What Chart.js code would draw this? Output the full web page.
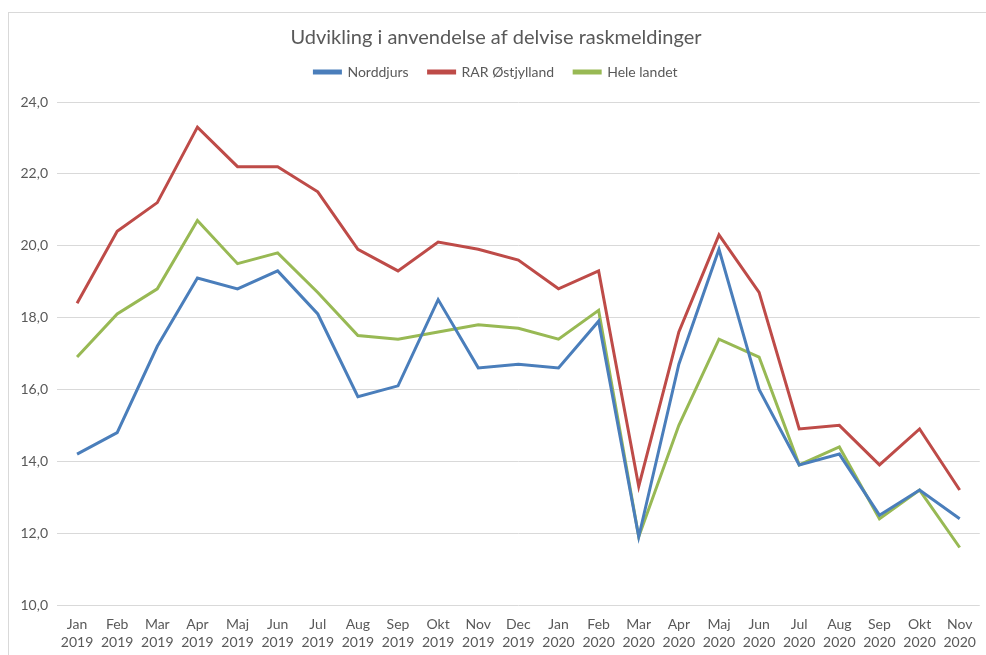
<!DOCTYPE html>
<html>
<head>
<meta charset="utf-8">
<script src="https://cdn.jsdelivr.net/npm/chart.js@4/dist/chart.umd.min.js"></script>
<style>
  html, body { margin: 0; padding: 0; background: #fff; }
  #frame {
    position: absolute; left: 8px; top: 12px;
    width: 978px; height: 643px;
    border-top: 1px solid #d9d9d9; border-left: 1px solid #d9d9d9;
  }
</style>
</head>
<body>
<div id="frame"><canvas id="myChart" width="977" height="642"></canvas></div>
<script>
const months = ['Jan', 'Feb', 'Mar', 'Apr', 'Maj', 'Jun', 'Jul', 'Aug', 'Sep', 'Okt', 'Nov', 'Dec',
  'Jan', 'Feb', 'Mar', 'Apr', 'Maj', 'Jun', 'Jul', 'Aug', 'Sep', 'Okt', 'Nov'];
const years = ['2019', '2019', '2019', '2019', '2019', '2019', '2019', '2019', '2019', '2019', '2019', '2019',
  '2020', '2020', '2020', '2020', '2020', '2020', '2020', '2020', '2020', '2020', '2020'];

const norddjurs = [14.2, 14.8, 17.2, 19.1, 18.8, 19.3, 18.1, 15.8, 16.1, 18.5, 16.6, 16.7,
  16.6, 17.9, 11.9, 16.7, 19.9, 16.0, 13.9, 14.2, 12.5, 13.2, 12.4];
const rarOstjylland = [18.4, 20.4, 21.2, 23.3, 22.2, 22.2, 21.5, 19.9, 19.3, 20.1, 19.9, 19.6,
  18.8, 19.3, 13.3, 17.6, 20.3, 18.7, 14.9, 15.0, 13.9, 14.9, 13.2];
const heleLandet = [16.9, 18.1, 18.8, 20.7, 19.5, 19.8, 18.7, 17.5, 17.4, 17.6, 17.8, 17.7,
  17.4, 18.2, 11.9, 15.0, 17.4, 16.9, 13.9, 14.4, 12.4, 13.2, 11.6];

const yTicks = [10, 12, 14, 16, 18, 20, 22, 24];

const textColor = '#595959';
const fontFamily = 'Lato, "Open Sans", sans-serif';

function series(label, data, color) {
  return {
    label: label,
    data: data,
    borderColor: color,
    backgroundColor: color,
    borderWidth: 3,
    pointRadius: 0,
    tension: 0,
  };
}

const chart_options = {
  type: 'line',
  data: {
    labels: months.map((m, i) => [m, years[i]]),
    datasets: [
      series('Norddjurs', norddjurs, '#4a7ebb'),
      series('RAR Østjylland', rarOstjylland, '#be4b48'),
      series('Hele landet', heleLandet, '#98b954'),
    ],
  },
  options: {
    responsive: false,
    animation: { duration: 0 },
    layout: { padding: { left: 0, right: 3, top: 0, bottom: 0 } },
    plugins: {
      title: {
        display: true,
        text: 'Udvikling i anvendelse af delvise raskmeldinger',
        color: textColor,
        font: { family: fontFamily, size: 20, weight: 'normal' },
        padding: { top: 13, bottom: -5 },
      },
      // empty subtitle below the legend, only used as a spacer
      subtitle: {
        display: true,
        text: ' ',
        weight: 500,
        font: { size: 1, lineHeight: 1 },
        padding: { top: 0, bottom: 12 },
      },
      legend: {
        display: true,
        labels: {
          color: textColor,
          font: { family: fontFamily, size: 14 },
          boxWidth: 26,
          boxHeight: 2,
          padding: 20,
        },
      },
      tooltip: { enabled: false },
    },
    scales: {
      x: {
        offset: true,
        grid: { display: false, drawTicks: false },
        border: { display: false },
        ticks: {
          color: textColor,
          font: { family: fontFamily, size: 14, lineHeight: 1.3 },
          padding: 10,
          maxRotation: 0,
          autoSkip: false,
        },
        afterFit: (scale) => { scale.height = 50; },
      },
      y: {
        min: 10,
        max: 24,
        afterBuildTicks: (scale) => { scale.ticks = yTicks.map((v) => ({ value: v })); },
        grid: { color: '#d9d9d9', drawTicks: false, lineWidth: 1 },
        border: { display: false },
        ticks: {
          color: textColor,
          font: { family: fontFamily, size: 14 },
          padding: 9,
          callback: (v) => v.toFixed(1).replace('.', ','),
        },
        afterFit: (scale) => { scale.width = 48; },
      },
    },
  },
};

new Chart(document.getElementById('myChart'), chart_options);
</script>
</body>
</html>
